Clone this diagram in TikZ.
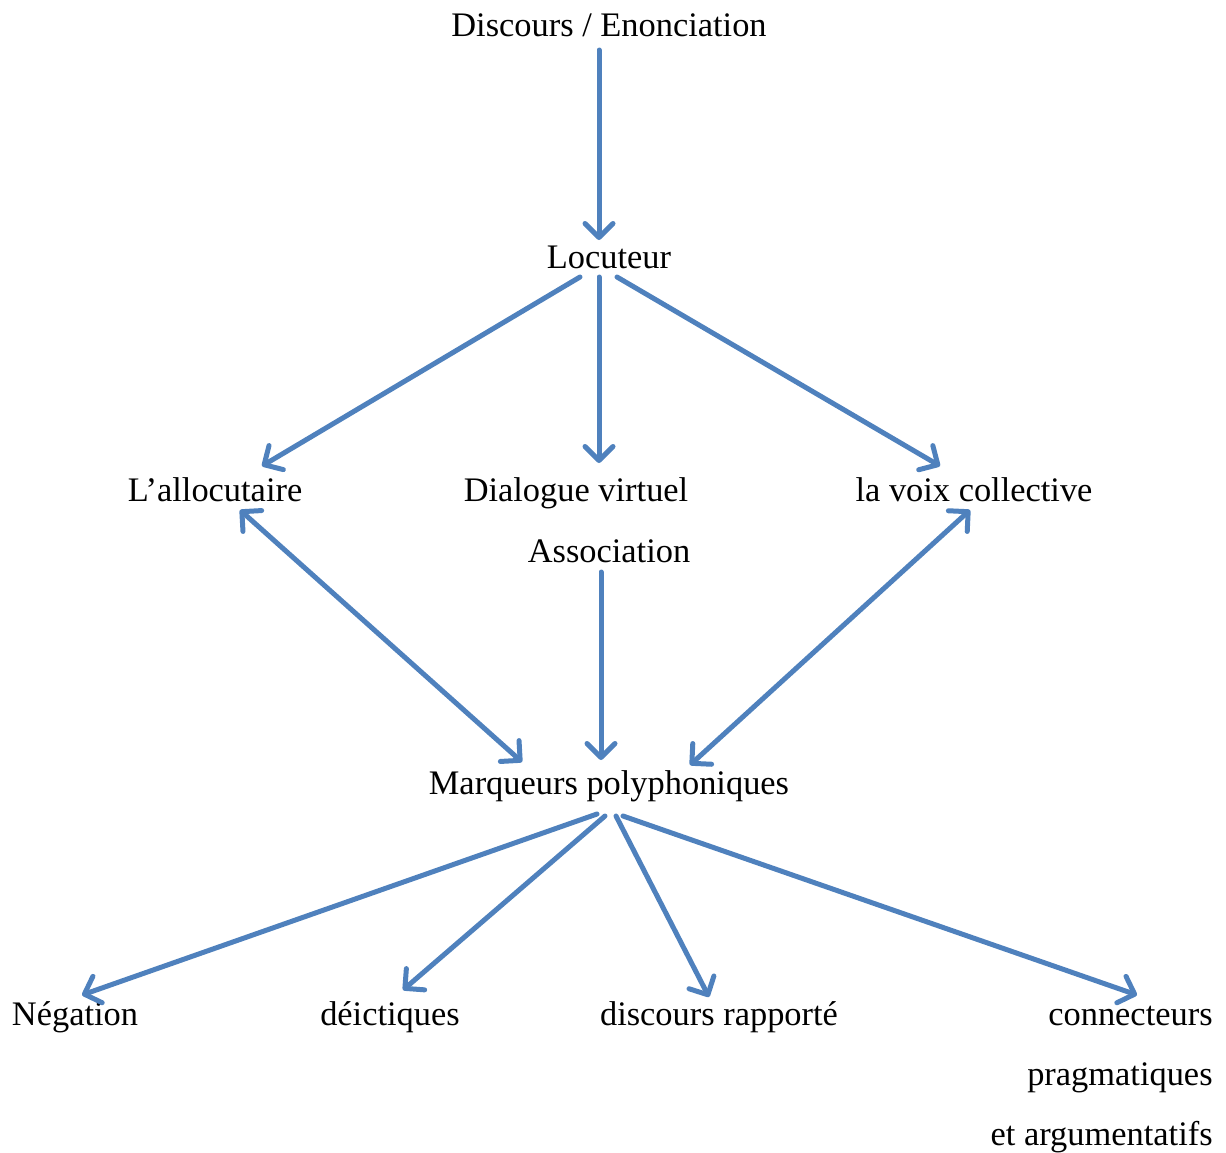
\documentclass[tikz,border=0pt]{standalone}
\usepackage{fontspec}
\setmainfont{Liberation Serif}
\usetikzlibrary{calc,arrows.meta}
\definecolor{wordblue}{RGB}{79,129,189}
\tikzset{
	lbl/.style={inner sep=0pt, anchor=base, font=\fontsize{17.2}{30}\selectfont},
	arr/.style={line width=2.5pt, color=wordblue, line cap=round, line join=round,
		-{Straight Barb[length=7pt, width=14pt, line cap=round, line join=round]}},
	arrr/.style={arr, {Straight Barb[length=7pt, width=14pt, line cap=round, line join=round]}-{Straight Barb[length=7pt, width=14pt, line cap=round, line join=round]}}
}

\begin{document}
\begin{tikzpicture}[x=0.5pt, y=-0.5pt]
			%%%%% START %%%%%
			\useasboundingbox (0, 0) rectangle (1226, 1152);
			
			\node[lbl] (disc) at (609, 36) {Discours / Enonciation};
			\node[lbl] (loc) at (609, 268) {Locuteur};
			
			\node[lbl] (allo) at (215, 501) {L’allocutaire};
			\node[lbl] (dial) at (576, 501) {Dialogue virtuel};
			\node[lbl] (voix) at (974, 501) {la voix collective};
			\node[lbl] (asso) at (609, 562) {Association};
			
			\node[lbl] (marq) at (609, 794) {Marqueurs polyphoniques};
			
			\node[lbl] (neg) at (75, 1025) {Négation};
			\node[lbl] (deic) at (390, 1025) {déictiques};
			\node[lbl] (rapp) at (719, 1025) {discours rapporté};
			\node[lbl, anchor=base east, align=right] (conn) at (1213, 1145) {connecteurs\\pragmatiques\\et argumentatifs};
			
			\draw[arr] ($(disc.base)+(-10, 14)$) -- ($(loc.base)+(-10, -28)$);
			
			\draw[arr] ($(loc.base)+(-29, 9)$) -- ($(allo.base)+(47, -35)$);
			\draw[arr] ($(loc.base)+(-10, 9)$) -- ($(dial.base)+(23, -38)$);
			\draw[arr] ($(loc.base)+(8, 9)$) -- ($(voix.base)+(-34, -35)$);
			
			\draw[arrr] ($(allo.base)+(25, 9)$) -- ($(marq.base)+(-87, -32)$);
			\draw[arr] ($(asso.base)+(-8, 10)$) -- ($(marq.base)+(-8, -34)$);
			\draw[arrr] ($(voix.base)+(-4, 9)$) -- ($(marq.base)+(81, -29)$);
			
			\draw[arr] ($(marq.base)+(-12, 20)$) -- ($(neg.base)+(7, -30)$);
			\draw[arr] ($(marq.base)+(-4, 22)$) -- ($(deic.base)+(13, -35)$);
			\draw[arr] ($(marq.base)+(7, 22)$) -- ($(rapp.base)+(-10, -28)$);
			\draw[arr] ($(marq.base)+(14, 22)$) -- ($(conn.base east)+(-76, -150)$);
			
			%%%%% END %%%%%
\end{tikzpicture}
\end{document}
